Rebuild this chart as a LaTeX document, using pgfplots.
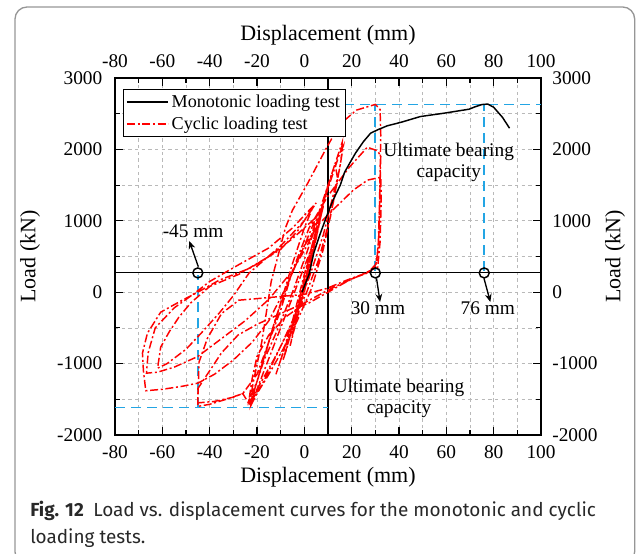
\documentclass[border=0pt]{standalone}
\usepackage{pgfplots}
\pgfplotsset{compat=1.18}
\usepackage{fontspec}
\setmainfont{Liberation Serif}
\newfontfamily\capfont{Fira Sans}
\usetikzlibrary{arrows.meta}
\definecolor{capblue}{RGB}{35,165,228}
\definecolor{gridgray}{RGB}{185,185,185}
\definecolor{boxgray}{RGB}{150,150,150}
\definecolor{captext}{RGB}{40,40,40}

\pgfplotstableread{
x y
-1 0
2 250
4 550
6.5 800
9.6 1080
12 1280
15.2 1500
17 1680
19.4 1821
21.6 1947
25 2110
28 2227
31 2275
35 2330
41 2381
49 2460
59 2507
69.6 2563
72 2595
75 2628
77.5 2635
80 2590
83.7 2450
86.7 2297
}\mono

\pgfplotstableread{
x y
0 0
2 300
4 650
5.5 900
4 700
1 250
-2 -150
-4 -450
-6 -750
-4.5 -550
-1 -100
2 350
5 800
8 1200
6.5 1000
3 450
-1 -50
-5 -500
-9 -950
-7.5 -800
-4 -350
0 200
4 750
8 1250
10 1500
8.5 1300
5 750
0 150
-5 -450
-10 -950
-12 -1150
-10 -950
-5 -400
0 250
4 750
8 1250
12 1700
16 2100
15.5 1850
12.5 1300
8 600
3 50
-3 -400
-9 -800
-15 -1150
-20 -1420
-22.5 -1580
-21 -1350
-17 -950
-11 -500
-5 0
1 550
7 1150
12 1650
15 1950
16.5 2050
15 1750
11 1050
6 450
1 0
-6 -500
-13 -950
-19 -1300
-23 -1530
-21.5 -1250
-18 -700
-14 150
-8 900
-5 1150
1 1500
9.5 2030
15 2350
22 2550
30 2630
32 2560
32.3 2200
31.8 1300
31.2 600
30 350
26 260
21 200
10 30
0 -150
-10 -300
-20 -450
-28 -600
-35 -850
-41 -1150
-45 -1350
-45 -1600
-40 -1570
-33 -1500
-26 -1420
-20 -1150
-15 -700
-10 -250
-5 300
2 900
10 1350
19 1750
26.6 2030
31 1980
32.3 1900
32 1500
31.5 800
30.5 400
27 280
18 170
9.4 52
0 -30
-10 -60
-20 -90
-27.7 -112
-35 -300
-41 -650
-44.5 -980
-45 -1550
-38 -1530
-30 -1470
-26 -1420
-23 -1585
-20 -1250
-16 -800
-12 -350
-6 200
0 650
6 950
12 1150
20.7 1430
26.7 1570
32.3 1610
32.5 1300
32 700
31 350
25 260
18 150
10 0
2 -150
-2 -207
-8 -350
-15 -600
-20 -900
-22 -1200
-23.4 -1513
-20 -1250
-15 -700
-10 -150
-5 400
0 900
3.6 1190
-3 850
-10 600
-23 336
-36 168
-45 0
-52 -120
-60.7 -280
-66.3 -574
-68.4 -854
-68 -1100
-67 -1380
-60 -1360
-52 -1320
-45 -1274
-38 -1150
-30 -950
-22 -700
-15 -400
-8 50
0 650
5 1050
-5 750
-15 500
-27.7 250
-40 80
-48 -150
-53 -350
-57 -550
-60.7 -770
-62 -1064
-58 -1000
-50 -800
-43.6 -574
-36 -294
-30 -50
-23.4 266
-10 650
0 1000
5 1250
-5 900
-15 620
-28 380
-40 150
-47 -30
-55 -220
-63 -500
-66 -850
-66.7 -1134
-62 -1120
-55 -1050
-45 -900
-35 -650
-25 -400
-15 -100
-5 300
2 700
8 1300
13 1800
14 1600
8 800
2 200
-5 -400
-12 -900
-18 -1300
-21 -1450
-17 -1100
-10 -500
-3 100
4 700
}\cyclic

\begin{document}
\begin{tikzpicture}
\path[use as bounding box] (0,0) rectangle (478.5pt,414.75pt);
\begin{scope}
\clip (0,0) rectangle (478.5pt,414.75pt);
\draw[boxgray, line width=1pt, rounded corners=9pt] (11.25pt,-8pt) rectangle (476pt,409.5pt);
\end{scope}
\begin{axis}[
  at={(86.25pt,88.5pt)}, anchor=south west,
  width=319.5pt, height=267.75pt, scale only axis,
  xmin=-80, xmax=100, ymin=-2000, ymax=3000,
  xtick={-80,-60,...,100}, ytick={-2000,-1000,...,3000},
  minor xtick={-70,-50,...,90}, minor ytick={-1500,-500,...,2500},
  grid=both,
  major grid style={gridgray, dash pattern=on 2.5pt off 2.5pt, line width=0.5pt},
  minor grid style={gridgray, dash pattern=on 2.5pt off 2.5pt, line width=0.5pt},
  tick align=inside, major tick length=6pt, minor tick length=3.5pt,
  every tick/.style={black, line width=0.8pt},
  axis line style={line width=1.2pt},
  tick label style={font=\fontsize{14.5}{16}\selectfont},
  xticklabel style={yshift=-4.5pt},
  yticklabel style={xshift=-6pt},
  /pgf/number format/assume math mode=true, /pgf/number format/1000 sep={},
  scaled ticks=false,
  xlabel={Displacement (mm)}, ylabel={Load (kN)},
  label style={font=\fontsize{16.5}{18}\selectfont},
  xlabel style={at={(axis description cs:0.5,-0.1176)}, anchor=center},
  ylabel style={at={(axis description cs:-0.1995,0.5)}, anchor=center, rotate=0},
  legend style={at={(0.0188,0.969)}, anchor=north west, draw=black, line width=0.8pt,
    fill=white, font=\fontsize{13.6}{16}\selectfont, inner sep=2pt, row sep=1.5pt},
  legend cell align=left,
  legend image code/.code={\draw[#1, line width=1.1pt] (0pt,0pt) -- (31pt,0pt);},
]
\addlegendimage{black, solid}
\addlegendentry{Monotonic loading test}
\addlegendimage{red, dash pattern=on 6pt off 2pt on 1.5pt off 2pt}
\addlegendentry{Cyclic loading test}

\addplot[black, line width=0.8pt, forget plot] coordinates {(10,-2000) (10,3000)};
\addplot[black, line width=0.8pt, forget plot] coordinates {(-80,270) (100,270)};
\addplot[capblue, dash pattern=on 7.5pt off 4.5pt, line width=1.3pt, forget plot] coordinates {(10,2630) (100,2630)};
\addplot[capblue, dash pattern=on 7.5pt off 4.5pt, line width=1.3pt, forget plot] coordinates {(30,300) (30,2630)};
\addplot[capblue, dash pattern=on 7.5pt off 4.5pt, line width=1.3pt, forget plot] coordinates {(76,300) (76,2630)};
\addplot[capblue, dash pattern=on 7.5pt off 4.5pt, line width=1.3pt, forget plot] coordinates {(-80,-1615) (10,-1615)};
\addplot[capblue, dash pattern=on 7.5pt off 4.5pt, line width=1.3pt, forget plot] coordinates {(-45,-1615) (-45,240)};

\addplot[red, line width=1.1pt, dash pattern=on 6pt off 2pt on 1.5pt off 2pt, forget plot] table[x=x,y=y] {\cyclic};
\addplot[black, line width=1.1pt, forget plot] table[x=x,y=y] {\mono};

\addplot[only marks, mark=o, mark size=3.75pt, black, line width=1.1pt, forget plot] coordinates {(-45,270) (30,270) (76,270)};

\draw[-{Stealth[length=6pt,width=5pt]}, line width=1pt] (axis cs:-44.8,357) -- (axis cs:-48.6,717);
\draw[-{Stealth[length=6pt,width=5pt]}, line width=1pt] (axis cs:30.5,195) -- (axis cs:32,-137);
\draw[-{Stealth[length=6pt,width=5pt]}, line width=1pt] (axis cs:75.9,195) -- (axis cs:78.6,-137);

\node[font=\fontsize{14.5}{16}\selectfont] at (axis cs:-47,857) {-45 mm};
\node[font=\fontsize{14.5}{16}\selectfont] at (axis cs:31.1,-218) {30 mm};
\node[font=\fontsize{14.5}{16}\selectfont] at (axis cs:77.5,-218) {76 mm};
\node[font=\fontsize{14.5}{15.75}\selectfont, align=center] at (axis cs:61,1823) {Ultimate bearing\\capacity};
\node[font=\fontsize{14.5}{15.75}\selectfont, align=center] at (axis cs:40,-1482) {Ultimate bearing\\capacity};
\end{axis}

\begin{axis}[
  at={(86.25pt,88.5pt)}, anchor=south west,
  width=319.5pt, height=267.75pt, scale only axis,
  xmin=-80, xmax=100, ymin=-2000, ymax=3000,
  xtick={-80,-60,...,100}, ytick={-2000,-1000,...,3000},
  axis line style={draw=none}, major tick length=0pt,
  xticklabel pos=right, yticklabel pos=right,
  tick label style={font=\fontsize{14.5}{16}\selectfont},
  xticklabel style={yshift=4.5pt},
  yticklabel style={xshift=5pt},
  /pgf/number format/assume math mode=true, /pgf/number format/1000 sep={},
  scaled ticks=false,
  xlabel={Displacement (mm)}, ylabel={Load (kN)},
  label style={font=\fontsize{16.5}{18}\selectfont},
  xlabel style={at={(axis description cs:0.5,1.1204)}, anchor=center},
  ylabel style={at={(axis description cs:1.1737,0.5)}, anchor=center, rotate=0},
]
\addplot[draw=none, forget plot] coordinates {(0,0)};
\end{axis}

\node[anchor=base west, font=\capfont\fontsize{14.2}{17}\selectfont, text=captext, inner sep=0pt] at (22.5pt,27.75pt) {\textbf{Fig. 12}\enspace Load vs. displacement curves for the monotonic and cyclic};
\node[anchor=base west, font=\capfont\fontsize{14.2}{17}\selectfont, text=captext, inner sep=0pt] at (22.5pt,7.5pt) {loading tests.};
\end{tikzpicture}
\end{document}
